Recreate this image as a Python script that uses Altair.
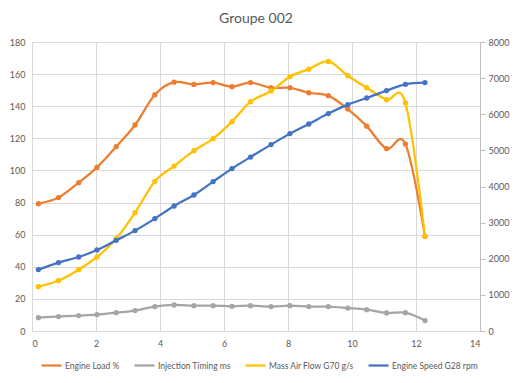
import altair as alt
import pandas as pd

x_vals = [0.20, 0.83, 1.46, 2.03, 2.63, 3.22, 3.84, 4.44, 5.06, 5.66, 6.25,
          6.83, 7.47, 8.06, 8.65, 9.26, 9.87, 10.46, 11.08, 11.67, 12.28]
engine_load = [79.3, 83.1, 92.4, 101.9, 114.8, 128.3, 147.2, 155.0, 153.6, 154.7, 152.2,
               154.7, 151.5, 151.5, 148.4, 146.6, 138.2, 127.6, 113.6, 116.4, 59.0]
injection = [8.3, 9.0, 9.6, 10.2, 11.4, 12.7, 15.2, 16.2, 15.8, 15.8, 15.4,
             15.8, 15.2, 15.8, 15.2, 15.2, 14.3, 13.3, 11.2, 11.4, 6.5]
maf = [27.6, 31.4, 38.2, 46.1, 57.5, 73.7, 93.2, 102.7, 112.3, 119.8, 130.4,
       142.8, 149.5, 158.4, 163.1, 167.9, 159.0, 151.5, 144.1, 142.0, 59.0]
rpm = [1700, 1893, 2048, 2242, 2511, 2779, 3111, 3460, 3765, 4135, 4495,
       4816, 5160, 5464, 5730, 6018, 6267, 6450, 6654, 6829, 6876]

names = ["Engine Load %", "Injection Timing ms", "Mass Air Flow G70 g/s", "Engine Speed G28 rpm"]
colors = ["#ED7D31", "#A5A5A5", "#FFC000", "#4472C4"]

rows = []
for name, vals in zip(names[:3], [engine_load, injection, maf]):
    for xv, v in zip(x_vals, vals):
        rows.append({"x": xv, "value": v, "series": name})
left_df = pd.DataFrame(rows)
right_df = pd.DataFrame({"x": x_vals, "value": rpm, "series": names[3]})

FONT = "Lato"
TXT = "#595959"
GRID = "#d9d9d9"

color = alt.Color(
    "series:N",
    scale=alt.Scale(domain=names, range=colors),
    legend=alt.Legend(
        title=None, orient="none", direction="horizontal", legendX=8, legendY=312,
        symbolType="stroke", symbolSize=400, symbolStrokeWidth=2.25,
        labelFontSize=8.5, labelColor=TXT, labelFont=FONT, labelOffset=2,
        columnPadding=10, padding=0, rowPadding=0,
    ),
)

xenc = alt.X(
    "x:Q",
    title=None,
    scale=alt.Scale(domain=[0, 14], nice=False),
    axis=alt.Axis(values=list(range(0, 15, 2)), domain=False, ticks=False, grid=True,
                  gridColor=GRID, labelPadding=8, labelFontSize=9, labelColor=TXT,
                  labelFont=FONT),
)

line_mark = dict(interpolate="cardinal", strokeWidth=2.25,
                 point=alt.OverlayMarkDef(filled=True, size=28, opacity=1))

left_chart = alt.Chart(left_df).mark_line(**line_mark).encode(
    x=xenc,
    y=alt.Y("value:Q", title=None,
            scale=alt.Scale(domain=[0, 180], nice=False),
            axis=alt.Axis(values=list(range(0, 181, 20)), domain=False, ticks=False,
                          grid=True, gridColor=GRID, labelPadding=7, labelFontSize=9,
                          labelColor=TXT, labelFont=FONT, orient="left")),
    color=color,
)

right_chart = alt.Chart(right_df).mark_line(**line_mark).encode(
    x=xenc,
    y=alt.Y("value:Q", title=None,
            scale=alt.Scale(domain=[0, 8000], nice=False),
            axis=alt.Axis(values=list(range(0, 8001, 1000)), format="d", domain=True,
                          domainColor="#bfbfbf", ticks=True, tickSize=5, tickColor="#bfbfbf",
                          grid=False, labelPadding=3, labelFontSize=9, labelColor=TXT,
                          labelFont=FONT, orient="right")),
    color=color,
)

chart = alt.layer(left_chart, right_chart).resolve_scale(y="independent").properties(
    width=448, height=289,
    autosize=alt.AutoSizeParams(type="none"),
    padding={"left": 24, "top": 34, "right": 33, "bottom": 44},
    title=alt.TitleParams("Groupe 002", fontSize=14, font=FONT, color=TXT,
                          fontWeight="normal", anchor="middle", frame="group", offset=12),
).configure_view(stroke=None).configure(background="white")

chart.save("out.html", embed_options={"renderer": "svg", "actions": False})
